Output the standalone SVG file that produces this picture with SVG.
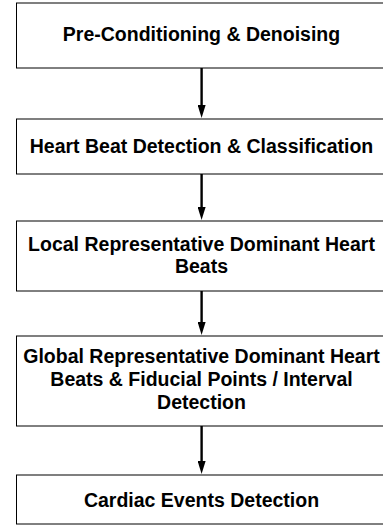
<svg xmlns="http://www.w3.org/2000/svg" width="383" height="531" viewBox="0 0 383 531">
  <style>
    .box { fill: #ffffff; stroke: #000000; stroke-width: 1; }
    .lbl { font-family: "Liberation Sans", Arial, Helvetica, sans-serif; font-weight: bold; font-size: 19.5px; fill: #000000; text-anchor: middle; }
    .conn { stroke: #000000; stroke-width: 2.4; fill: none; marker-end: url(#arrow); }
  </style>
  <defs>
    <marker id="arrow" markerUnits="userSpaceOnUse" viewBox="0 0 13 8" markerWidth="13" markerHeight="8" refX="3" refY="4" orient="auto">
      <path d="M0,0 L13,4 L0,8 z" fill="#000000"/>
    </marker>
  </defs>
  <rect width="383" height="531" fill="#ffffff"/>
  <g id="connectors">
    <line class="conn" x1="201.6" y1="68" x2="201.6" y2="108"/>
    <line class="conn" x1="201.6" y1="174" x2="201.6" y2="210"/>
    <line class="conn" x1="201.6" y1="291" x2="201.6" y2="325"/>
    <line class="conn" x1="201.6" y1="426" x2="201.6" y2="464"/>
  </g>
  <g id="node1">
    <rect class="box" x="16.5" y="3" width="371" height="65"/>
    <text class="lbl" x="201.5" y="40.7">Pre-Conditioning &amp; Denoising</text>
  </g>
  <g id="node2">
    <rect class="box" x="16.5" y="119" width="371" height="55"/>
    <text class="lbl" x="201.5" y="153.3">Heart Beat Detection &amp; Classification</text>
  </g>
  <g id="node3">
    <rect class="box" x="16.5" y="221" width="371" height="70"/>
    <text class="lbl" x="201.5" y="250.7">Local Representative Dominant Heart</text>
    <text class="lbl" x="201.5" y="273.4">Beats</text>
  </g>
  <g id="node4">
    <rect class="box" x="16.5" y="336" width="371" height="90"/>
    <text class="lbl" x="201.5" y="363.3">Global Representative Dominant Heart</text>
    <text class="lbl" x="201.5" y="386">Beats &amp; Fiducial Points / Interval</text>
    <text class="lbl" x="201.5" y="408.8">Detection</text>
  </g>
  <g id="node5">
    <rect class="box" x="16.5" y="475" width="371" height="49"/>
    <text class="lbl" x="201.5" y="507">Cardiac Events Detection</text>
  </g>
</svg>
